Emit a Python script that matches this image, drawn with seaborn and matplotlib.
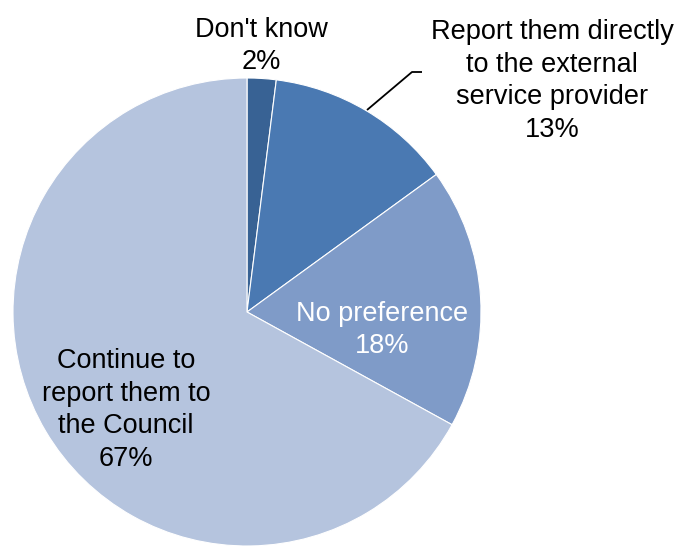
import matplotlib
matplotlib.use("Agg")
import matplotlib.pyplot as plt
import seaborn as sns

# Survey responses: how residents would prefer to report issues
categories = ["Don't know",
              "Report them directly\nto the external\nservice provider",
              "No preference",
              "Continue to\nreport them to\nthe Council"]
shares = [2, 13, 18, 67]
slice_colors = ["#386294", "#4a79b2", "#7f9bc8", "#b5c4de"]

sns.set_theme(style="white")
plt.rcParams["font.family"] = ["Liberation Sans", "DejaVu Sans"]

W, H = 680, 547
fig = plt.figure(figsize=(W / 100, H / 100), dpi=100)
ax = fig.add_axes([0, 0, 1, 1])

cx, cy, r = 247, H - 312, 234
wedges, _ = ax.pie(shares, colors=slice_colors, startangle=90,
                   counterclock=False, center=(cx, cy), radius=r,
                   wedgeprops=dict(edgecolor="white", linewidth=0.8))
ax.set_xlim(0, W)
ax.set_ylim(0, H)
ax.set_aspect("equal")
ax.set_axis_off()

labels = [f"{c}\n{v}%" for c, v in zip(categories, shares)]
fs = 19.5
ls = 1.33
ax.text(261, H - 46, labels[0], ha="center", va="center", fontsize=fs,
        color="black", linespacing=ls)
ax.text(552, H - 81, labels[1], ha="center", va="center", fontsize=fs,
        color="black", linespacing=ls)
ax.text(382, H - 330, labels[2], ha="center", va="center", fontsize=fs,
        color="white", linespacing=ls)
ax.text(126, H - 410, labels[3], ha="center", va="center", fontsize=fs,
        color="black", linespacing=ls)

# leader line for the external-provider slice
ax.plot([367, 412, 422], [H - 110, H - 72, H - 72], color="black", lw=1.3,
        solid_capstyle="butt")

fig.savefig("out.png", dpi=100)
